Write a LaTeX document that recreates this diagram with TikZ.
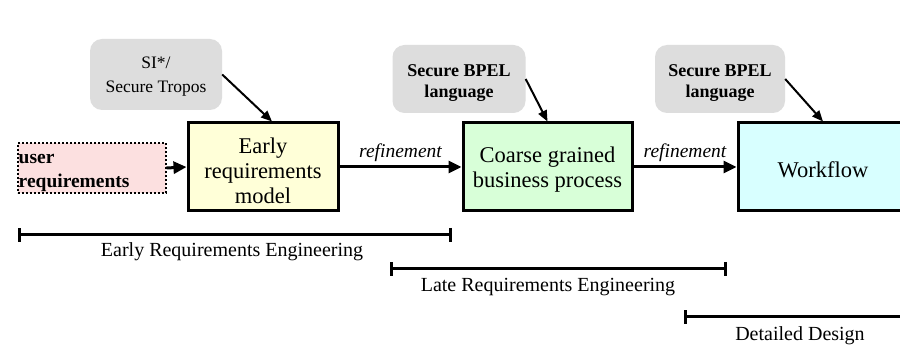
\documentclass[tikz,border=0pt]{standalone}
\usepackage{fontspec}
\setmainfont{Liberation Serif}
\usetikzlibrary{arrows.meta,calc}
\definecolor{toolgray}{RGB}{221,221,221}
\definecolor{userpink}{RGB}{252,224,224}
\definecolor{earlyyellow}{RGB}{255,255,216}
\definecolor{coarsegreen}{RGB}{216,255,216}
\definecolor{flowcyan}{RGB}{216,255,255}
\tikzset{
  procbox/.style={draw=black, line width=3pt, minimum height=88pt, inner sep=0pt},
  proctext/.style={align=center, inner sep=0pt, font=\fontsize{22.5}{25}\selectfont},
  toolbox/.style={fill=toolgray, rounded corners=12pt, minimum height=68pt, inner sep=0pt},
  tooltext/.style={align=center, inner sep=0pt},
  flow/.style={-{Triangle[length=13pt,width=12pt]}, line width=3pt},
  hint/.style={-{Triangle[length=11pt,width=9pt]}, line width=2pt},
  phase/.style={line width=3pt, {Bar[width=14pt]}-{Bar[width=14pt]}},
  phaselabel/.style={font=\fontsize{20}{22}\selectfont, inner sep=0pt},
  reflabel/.style={font=\fontsize{19.5}{21}\selectfont\itshape, inner sep=1pt}
}
\begin{document}
\begin{tikzpicture}[x=1pt,y=-1pt]
\useasboundingbox[fill=white] (0,0) rectangle (900,347);
\begin{scope}
\clip (0,0) rectangle (900,347);

% tool boxes
\node[toolbox, minimum width=132pt, minimum height=71pt] (si) at (156,74.5) {};
\node[tooltext, font=\fontsize{17.5}{24}\selectfont] (sitext) at ([yshift=-2pt]si.center) {SI*/\\Secure Tropos};
\node[toolbox, minimum width=133pt] (bpel1) at (459,79) {};
\node[tooltext, font=\fontsize{18}{21}\selectfont\bfseries] (bpel1text) at ([yshift=-4pt]bpel1.center) {Secure BPEL\\language};
\node[toolbox, minimum width=130pt] (bpel2) at (720,79) {};
\node[tooltext, font=\fontsize{18}{21}\selectfont\bfseries] (bpel2text) at ([yshift=-4pt]bpel2.center) {Secure BPEL\\language};

% user requirements
\node[draw=black, dotted, line width=2pt, fill=userpink, minimum height=50pt,
      minimum width=148pt, inner sep=0pt] (user) at (91.5,168) {};
\node[align=left, inner sep=0pt, anchor=west,
      font=\fontsize{19.5}{24}\selectfont\bfseries] (usertext) at ([xshift=2pt,yshift=-5pt]user.west) {user\\requirements};

% process boxes
\node[procbox, fill=earlyyellow, minimum width=150pt] (early) at (263,167) {};
\node[proctext] (earlytext) at ([yshift=-4pt]early.center) {Early\\requirements\\model};
\node[procbox, fill=coarsegreen, minimum width=169pt] (coarse) at (547.5,167) {};
\node[proctext] (coarsetext) at ([yshift=-3pt]coarse.center) {Coarse grained\\business process};
\node[procbox, fill=flowcyan, minimum width=170pt] (work) at (823,167) {};
\node[proctext] (worktext) at ([yshift=-3pt]work.center) {Workflow};

% connectors
\draw[flow] (user.east) -- (early.west);
\draw[flow] (early.east) -- node[reflabel, above=3pt] {refinement} (coarse.west);
\draw[flow] (coarse.east) -- node[reflabel, above=3pt] {refinement} (work.west);
\draw[hint] (si.east) -- ([xshift=9pt]early.north);
\draw[hint] (bpel1.east) -- (coarse.north);
\draw[hint] (bpel2.east) -- (work.north);

% phases
\coordinate (e1) at (18,235);
\coordinate (e2) at (452,235);
\coordinate (l1) at (390,269);
\coordinate (l2) at (727,269);
\coordinate (d1) at (684,317);
\coordinate (d2) at (910,317);
\draw[phase] (e1) -- (e2);
\draw[phase] (l1) -- (l2);
\draw[line width=3pt, {Bar[width=14pt]}-] (d1) -- (d2);
\node[phaselabel] (elab) at (232,252) {Early Requirements Engineering};
\node[phaselabel] (llab) at (548,287) {Late Requirements Engineering};
\node[phaselabel] (dlab) at (800,336) {Detailed Design};
\end{scope}
\end{tikzpicture}
\end{document}
